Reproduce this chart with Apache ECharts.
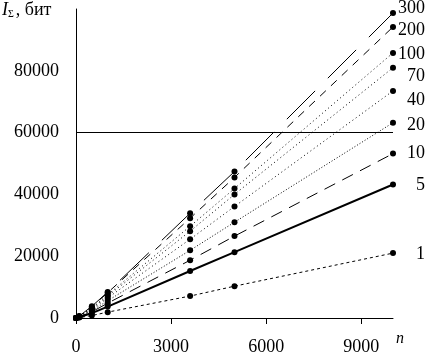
<!DOCTYPE html>
<html><head><meta charset="utf-8">
<script src="https://cdn.jsdelivr.net/npm/echarts@6/dist/echarts.min.js"></script>
<style>html,body{margin:0;padding:0;background:#fff}#c{width:428px;height:356px}</style>
</head><body><div id="c"></div>
<script>
const nValues = [0, 100, 500, 1000, 3600, 5000, 10000];
const xTicks = [0, 3000, 6000, 9000];
const yTicks = [0, 20000, 40000, 60000, 80000];
const refLine = 60000;
const seriesNames = ['300', '200', '100', '70', '40', '20', '10', '5', '1'];
const s300 = [0, 600, 3800, 8400, 33900, 47400, 98700];
const s200 = [0, 560, 3600, 8200, 32300, 45500, 94200];
const s100 = [0, 500, 3300, 7500, 29700, 41900, 85800];
const s70  = [0, 470, 3100, 7100, 28100, 40000, 81000];
const s40  = [0, 420, 2800, 6500, 25500, 36100, 73500];
const s20  = [0, 360, 2400, 5600, 21900, 31000, 63200];
const s10  = [0, 300, 2000, 4800, 18700, 26500, 53200];
const s5   = [0, 240, 1600, 3700, 15200, 21300, 43200];
const s1   = [0, 130, 800, 1900, 7100, 10300, 21000];
const seriesValues = [s300, s200, s100, s70, s40, s20, s10, s5, s1];

const styles = [
  {type: [40, 18], width: 1, dy: -5},
  {type: [8, 7], width: 1, dy: 3},
  {type: [1, 3], width: 1, dy: 1},
  {type: [1, 3], width: 1, dy: 9},
  {type: [1, 3], width: 1, dy: 9},
  {type: [1, 2], width: 1, dy: 3},
  {type: [12, 8], width: 1, dy: 0},
  {type: 'solid', width: 2, dy: 1},
  {type: [3, 3], width: 1, dy: 1}
];
const FONT = 'Liberation Serif, Times New Roman, serif';

const series = seriesNames.map((name, i) => {
  const vals = seriesValues[i];
  return {
    name: name,
    type: 'line',
    data: nValues.map((n, j) => {
      const item = {value: [n, vals[j]]};
      if (j === nValues.length - 1) {
        item.label = {
          show: true, position: 'inside', align: 'right', verticalAlign: 'middle',
          offset: [32, styles[i].dy], formatter: name,
          color: '#000', fontFamily: FONT, fontSize: 18,
          textBorderWidth: 0
        };
      }
      return item;
    }),
    symbol: 'circle', symbolSize: 6,
    itemStyle: {color: '#000'},
    lineStyle: {color: '#000', width: styles[i].width, type: styles[i].type},
    emphasis: {disabled: true},
    animation: false,
    z: 3
  };
});
series[0].markLine = {
  silent: true, symbol: ['none', 'none'], label: {show: false},
  lineStyle: {color: '#000', width: 1, type: 'solid'},
  data: [{yAxis: refLine}], animation: false
};

const chart = echarts.init(document.getElementById('c'), null, {renderer: 'canvas'});
chart.setOption({
  backgroundColor: '#fff',
  animation: false,
  grid: {left: 76, right: 35, top: 9, bottom: 37, containLabel: false},
  xAxis: {
    type: 'value', min: 0, max: 10000, interval: 3000,
    axisLine: {show: true, lineStyle: {color: '#000', width: 1}},
    axisTick: {show: true, length: 6, lineStyle: {color: '#000'}, customValues: xTicks},
    axisLabel: {color: '#000', fontFamily: FONT, fontSize: 18, margin: 20, customValues: xTicks,
      formatter: v => String(v)},
    splitLine: {show: false}
  },
  yAxis: {
    type: 'value', min: 0, max: 100000, interval: 20000,
    axisLine: {show: true, lineStyle: {color: '#000', width: 1}},
    axisTick: {show: false},
    axisLabel: {color: '#000', fontFamily: FONT, fontSize: 18, margin: 17, customValues: yTicks,
      formatter: v => String(v)},
    splitLine: {show: false}
  },
  graphic: [
    {type: 'text', left: 2, top: 1, style: {
      text: '{i|I}{s|Σ}{n|, бит}',
      rich: {
        i: {fontFamily: FONT, fontSize: 18, fontStyle: 'italic', fill: '#000'},
        s: {fontFamily: FONT, fontSize: 10, fill: '#000', padding: [8, 2, 0, 0]},
        n: {fontFamily: FONT, fontSize: 18, fill: '#000'}
      }
    }},
    {type: 'text', left: 396, top: 331, style: {
      text: 'n', fontFamily: FONT, fontSize: 16, fontStyle: 'italic', fill: '#000'
    }}
  ],
  series: series
});
</script>
</body></html>
